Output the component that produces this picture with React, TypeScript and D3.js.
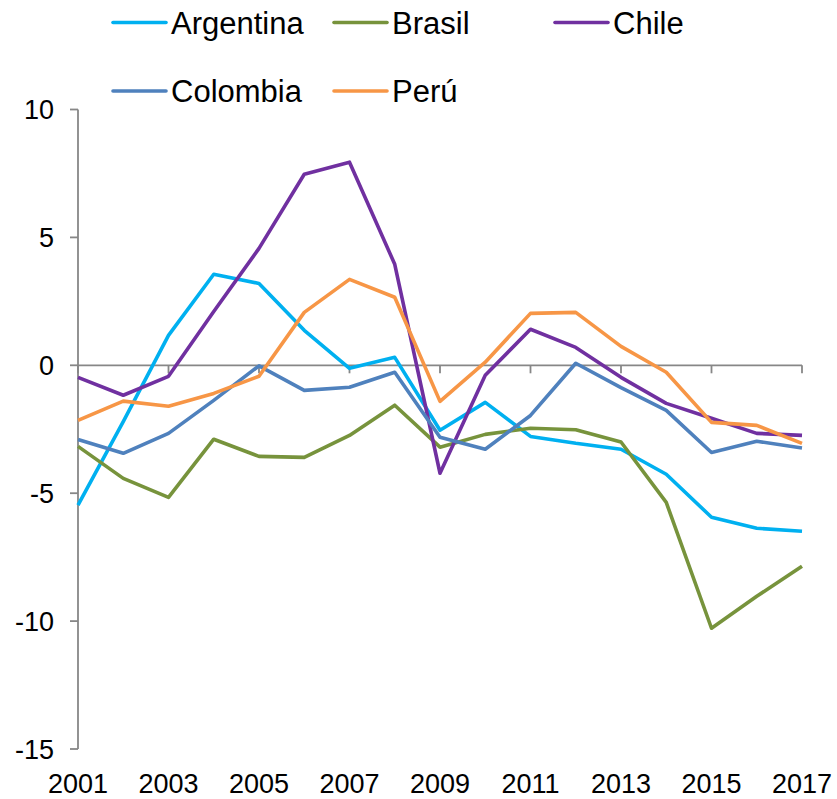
import React, { useEffect, useRef } from "react";
import * as d3 from "d3";

const years = [2001, 2002, 2003, 2004, 2005, 2006, 2007, 2008, 2009, 2010, 2011, 2012, 2013, 2014, 2015, 2016, 2017];
const argentina = [-5.47, -2.2, 1.17, 3.56, 3.2, 1.37, -0.12, 0.31, -2.54, -1.45, -2.78, -3.05, -3.28, -4.26, -5.94, -6.37, -6.49];
const brasil = [-3.17, -4.42, -5.16, -2.89, -3.56, -3.6, -2.74, -1.56, -3.2, -2.7, -2.46, -2.52, -3.0, -5.36, -10.28, -9.03, -7.86];
const chile = [-0.47, -1.17, -0.43, 2.1, 4.57, 7.47, 7.94, 3.95, -4.22, -0.39, 1.41, 0.7, -0.47, -1.49, -2.07, -2.66, -2.74];
const colombia = [-2.9, -3.44, -2.66, -1.37, -0.02, -0.98, -0.86, -0.27, -2.81, -3.28, -1.96, 0.08, -0.87, -1.76, -3.41, -2.97, -3.23];
const peru = [-2.15, -1.4, -1.6, -1.1, -0.43, 2.07, 3.36, 2.66, -1.41, 0.12, 2.03, 2.07, 0.74, -0.27, -2.23, -2.35, -3.05];

const seriesNames = ["Argentina", "Brasil", "Chile", "Colombia", "Perú"];
const seriesValues = [argentina, brasil, chile, colombia, peru];
const seriesColors = ["#00B0F0", "#77933C", "#7030A0", "#4F81BD", "#F79646"];
const yTicks = [10, 5, 0, -5, -10, -15];
const xTickYears = [2001, 2003, 2005, 2007, 2009, 2011, 2013, 2015, 2017];

export default function App() {
  const ref = useRef<SVGSVGElement | null>(null);

  useEffect(() => {
    document.body.style.margin = "0";
    const svg = d3.select(ref.current);
    svg.selectAll("*").remove();

    const font = "'Liberation Sans', Arial, sans-serif";
    const x = d3.scaleLinear().domain([2001, 2017]).range([78, 802]);
    const y = d3.scaleLinear().domain([-15, 10]).range([749, 109.5]);
    const axisColor = "#878787";

    // y axis
    svg.append("line")
      .attr("x1", x(2001)).attr("x2", x(2001))
      .attr("y1", y(10)).attr("y2", y(-15))
      .attr("stroke", axisColor).attr("stroke-width", 1.8);
    yTicks.forEach((t) => {
      svg.append("line")
        .attr("x1", x(2001) - 8).attr("x2", x(2001))
        .attr("y1", y(t)).attr("y2", y(t))
        .attr("stroke", axisColor).attr("stroke-width", 1.8);
      svg.append("text")
        .attr("x", 54).attr("y", y(t) + 9.5)
        .attr("text-anchor", "end")
        .attr("font-family", font).attr("font-size", 27)
        .attr("fill", "#000")
        .text(String(t));
    });

    // x axis at zero
    svg.append("line")
      .attr("x1", x(2001)).attr("x2", x(2017))
      .attr("y1", y(0)).attr("y2", y(0))
      .attr("stroke", axisColor).attr("stroke-width", 1.8);
    xTickYears.forEach((yr) => {
      svg.append("line")
        .attr("x1", x(yr)).attr("x2", x(yr))
        .attr("y1", y(0)).attr("y2", y(0) + 8)
        .attr("stroke", axisColor).attr("stroke-width", 1.8);
      svg.append("text")
        .attr("x", x(yr)).attr("y", 793)
        .attr("text-anchor", "middle")
        .attr("font-family", font).attr("font-size", 27)
        .attr("fill", "#000")
        .text(String(yr));
    });

    // lines
    const line = d3.line<number>()
      .x((_, i) => x(years[i]))
      .y((d) => y(d));
    seriesValues.forEach((vals, i) => {
      svg.append("path")
        .attr("d", line(vals) as string)
        .attr("fill", "none")
        .attr("stroke", seriesColors[i])
        .attr("stroke-width", 3.6)
        .attr("stroke-linejoin", "round");
    });

    // legend
    const legendPos = [
      [113, 22.5], [334, 22.5], [555, 22.5],
      [113, 91], [334, 91],
    ];
    seriesNames.forEach((name, i) => {
      const [lx, ly] = legendPos[i];
      svg.append("line")
        .attr("x1", lx).attr("x2", lx + 53)
        .attr("y1", ly).attr("y2", ly)
        .attr("stroke", seriesColors[i])
        .attr("stroke-width", 3.6)
        .attr("stroke-linecap", "round");
      svg.append("text")
        .attr("x", lx + 58).attr("y", ly + 11)
        .attr("font-family", font).attr("font-size", 31)
        .attr("fill", "#000")
        .text(name);
    });
  }, []);

  return (
    <div style={{ position: "absolute", left: 0, top: 0 }}>
      <svg ref={ref} width={837} height={799} style={{ display: "block", background: "#fff" }} />
    </div>
  );
}
